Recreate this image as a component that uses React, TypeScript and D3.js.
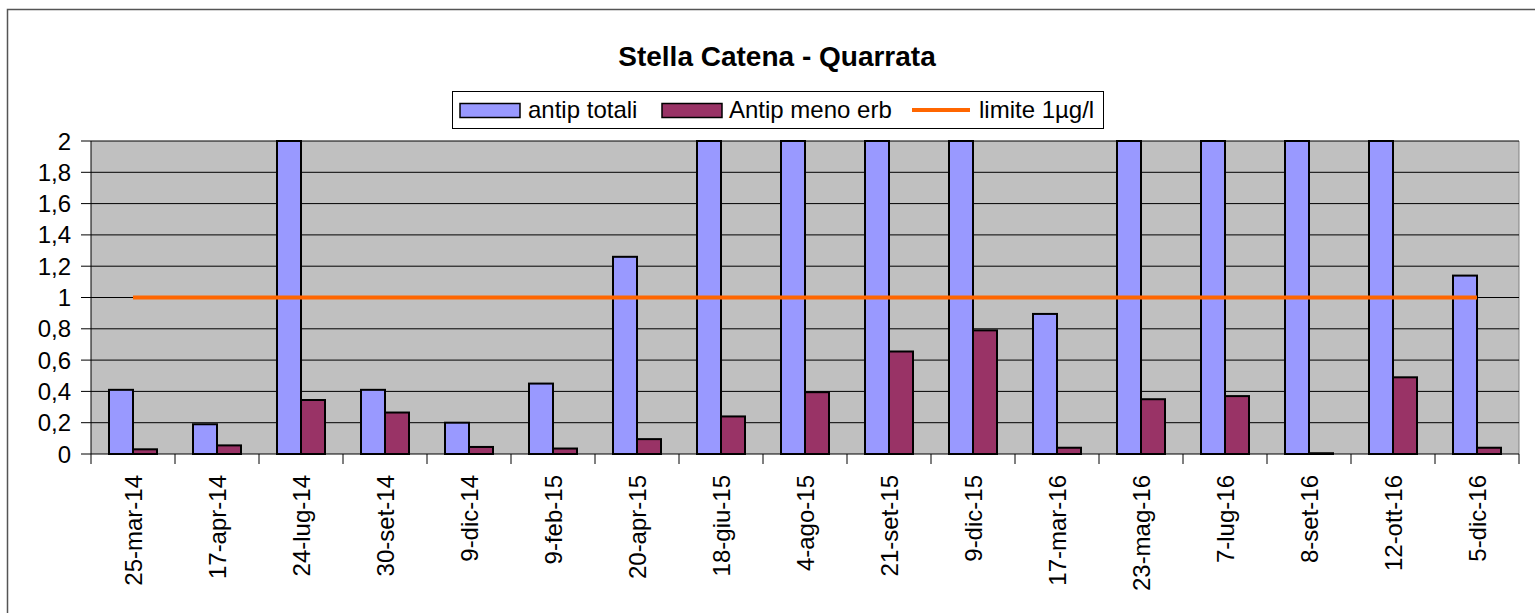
import React from "react";
import * as d3 from "d3";

const categories = ["25-mar-14","17-apr-14","24-lug-14","30-set-14","9-dic-14","9-feb-15","20-apr-15","18-giu-15","4-ago-15","21-set-15","9-dic-15","17-mar-16","23-mag-16","7-lug-16","8-set-16","12-ott-16","5-dic-16"];
const antipTotali = [0.41,0.19,2,0.41,0.2,0.45,1.26,2,2,2,2,0.895,2,2,2,2,1.14];
const antipMenoErb = [0.03,0.055,0.345,0.265,0.045,0.035,0.095,0.24,0.395,0.655,0.79,0.04,0.35,0.37,0.005,0.49,0.04];
const limite = categories.map(() => 1);
const yTicks = [0,0.2,0.4,0.6,0.8,1,1.2,1.4,1.6,1.8,2];

const W = 1535, H = 613;
const L = 91, R = 1519, T = 141, B = 454;
const FONT = "'Liberation Sans', Arial, sans-serif";

export default function App() {
  const x = d3.scaleBand<string>().domain(categories).range([L, R]).paddingInner(0).paddingOuter(0);
  const y = d3.scaleLinear().domain([0, 2]).range([B, T]);
  const bw = x.bandwidth() / 3.5;
  const off = (x.bandwidth() - 2 * bw) / 2;
  const fmt = (v: number) => String(Math.round(v * 10) / 10).replace(".", ",");
  const line = d3.line<number>().x((_, i) => x(categories[i])! + x.bandwidth() / 2).y(d => y(d));

  return (
    <svg width={W} height={H} style={{ position: "absolute", left: 0, top: 0 }} fontFamily={FONT}>
      <rect x={0} y={0} width={W} height={H} fill="#fff" />
      <rect x={7.5} y={9.5} width={W + 20} height={H + 20} fill="none" stroke="#555" strokeWidth={1.5} />
      <text x={777} y={66} textAnchor="middle" fontSize={28} fontWeight="bold">Stella Catena - Quarrata</text>

      {/* plot area */}
      <rect x={L} y={T} width={R - L} height={B - T} fill="#C0C0C0" />
      <line x1={R} x2={R} y1={T} y2={B} stroke="#808080" strokeWidth={1} />
      {yTicks.map(t => (
        <g key={t}>
          <line x1={L} x2={R} y1={y(t)} y2={y(t)} stroke="#000" strokeWidth={1} />
          <line x1={L - 10} x2={L} y1={y(t)} y2={y(t)} stroke="#000" strokeWidth={1} />
          <text x={71} y={y(t) + 8.5} textAnchor="end" fontSize={24}>{fmt(t)}</text>
        </g>
      ))}
      <line x1={L} x2={L} y1={T} y2={B + 10} stroke="#000" strokeWidth={1} />
      {categories.map((c, i) => (
        <g key={c}>
          <line x1={x(c)! + x.bandwidth()} x2={x(c)! + x.bandwidth()} y1={B} y2={B + 10} stroke="#000" strokeWidth={1} />
          <rect x={x(c)! + off} y={y(antipTotali[i])} width={bw} height={B - y(antipTotali[i])} fill="#9999FF" stroke="#000" strokeWidth={2} />
          <rect x={x(c)! + off + bw} y={y(antipMenoErb[i])} width={bw} height={B - y(antipMenoErb[i])} fill="#993366" stroke="#000" strokeWidth={2} />
          <text transform={`translate(${x(c)! + x.bandwidth() / 2 + 9},${475}) rotate(-90)`} textAnchor="end" fontSize={24}>{c}</text>
        </g>
      ))}
      <path d={line(limite)!} fill="none" stroke="#FF6600" strokeWidth={4} />

      {/* legend */}
      <rect x={452.5} y={91.5} width={651} height={37} fill="#fff" stroke="#000" strokeWidth={1} />
      <rect x={460} y={103.5} width={60} height={14} fill="#9999FF" stroke="#000" strokeWidth={1.5} />
      <text x={528} y={118} fontSize={24}>antip totali</text>
      <rect x={662} y={103.5} width={60} height={14} fill="#993366" stroke="#000" strokeWidth={1.5} />
      <text x={729} y={118} fontSize={24}>Antip meno erb</text>
      <line x1={912} x2={970} y1={110} y2={110} stroke="#FF6600" strokeWidth={4} />
      <text x={979} y={118} fontSize={24}>limite 1µg/l</text>
    </svg>
  );
}
